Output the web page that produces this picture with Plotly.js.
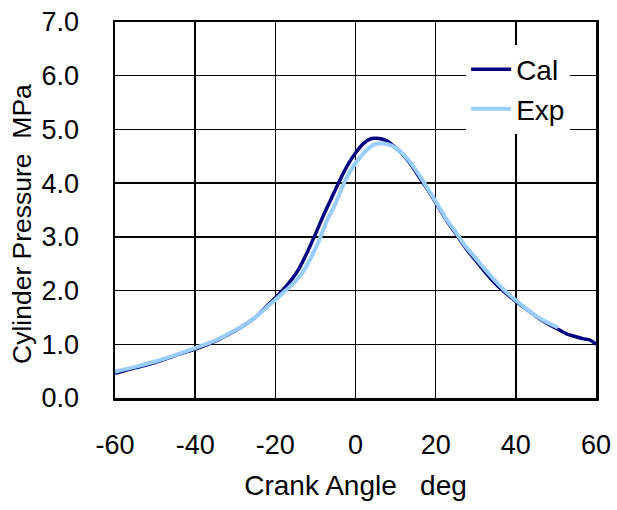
<!DOCTYPE html>
<html>
<head>
<meta charset="utf-8">
<script src="https://cdn.plot.ly/plotly-3.0.1.min.js"></script>
<style>html,body{margin:0;padding:0;background:#fff;}#chart{width:617px;height:510px;}</style>
</head>
<body>
<div id="chart"></div>
<script>
// Crank angle (deg) and cylinder pressure (MPa)
const calAngle = [-60,-55,-50,-45,-40,-35,-30,-25,-22,-20,-18,-16,-14,-12,-10,-8,-6,-4,-2,0,2,4,6,8,10,12,14,16,18,20,22.5,25,27.5,30,32.5,35,37.5,40,42.5,45,47.5,50,52.5,55,57,58.5,60];
const calPressure = [0.46,0.56,0.66,0.79,0.91,1.06,1.25,1.5,1.72,1.86,2.02,2.2,2.42,2.72,3.05,3.4,3.72,4.04,4.33,4.56,4.74,4.83,4.83,4.78,4.66,4.52,4.33,4.1,3.88,3.64,3.33,3.06,2.79,2.56,2.33,2.12,1.95,1.8,1.66,1.52,1.4,1.3,1.2,1.14,1.1,1.08,1.0];
const expAngle = [-60,-55,-50,-45,-40,-35,-30,-25,-22,-20,-17,-15,-13,-11,-9,-7,-5,-2.5,0,3,5,7,9,11,13,16,20,22.5,25,27.5,30,32.5,35,37.5,40,42.5,45,47.5,50.5];
const expPressure = [0.49,0.58,0.68,0.8,0.93,1.07,1.26,1.5,1.7,1.83,2.03,2.17,2.36,2.63,2.95,3.32,3.62,4.06,4.37,4.63,4.73,4.74,4.7,4.6,4.45,4.14,3.66,3.35,3.09,2.82,2.6,2.38,2.17,1.98,1.82,1.67,1.53,1.42,1.31];
const xTickVals = [-60,-40,-20,0,20,40,60];
const xTickText = ["-60","-40","-20","0","20","40","60"];
const yTickVals = [0,1,2,3,4,5,6,7];
const yTickText = ["0.0","1.0","2.0","3.0","4.0","5.0","6.0","7.0"];
const xTitle = "Crank Angle   deg";
const yTitle = "Cylinder Pressure  MPa";

const FONT = "Liberation Sans, Arial, sans-serif";
const traces = [
  {x: calAngle, y: calPressure, name: "Cal", mode: "lines", legendgroup: "a",
   line: {color: "#000080", width: 3.5, shape: "spline", smoothing: 0.6}},
  {x: expAngle, y: expPressure, name: "Exp", mode: "lines", legendgroup: "b",
   line: {color: "#99CCFF", width: 4, shape: "spline", smoothing: 0.6}}
];
const layout = {
  width: 617, height: 510,
  margin: {l: 115, r: 21, t: 22, b: 112},
  paper_bgcolor: "#fff", plot_bgcolor: "#fff",
  font: {family: FONT, size: 27, color: "#000"},
  showlegend: true,
  legend: {x: 0.73, y: 0.94, xanchor: "left", yanchor: "top",
    bgcolor: "#fff", borderwidth: 0, font: {family: FONT, size: 28, color: "#000"},
    itemwidth: 40, traceorder: "grouped", tracegroupgap: 0},
  xaxis: {range: [-60, 60], tickvals: xTickVals, ticktext: xTickText,
    showgrid: true, gridcolor: "#000", gridwidth: 1.5,
    showline: true, linecolor: "#000", linewidth: 2.5, mirror: true,
    ticks: "", zeroline: false, ticklabelstandoff: 21,
    tickfont: {family: FONT, size: 27, color: "#000"},
    title: {text: xTitle, font: {family: FONT, size: 28, color: "#000"}, standoff: 17}},
  yaxis: {range: [0, 7], tickvals: yTickVals, ticktext: yTickText,
    showgrid: true, gridcolor: "#000", gridwidth: 1.5,
    showline: true, linecolor: "#000", linewidth: 2.5, mirror: true,
    ticks: "", zeroline: false, ticklabelstandoff: 28,
    tickfont: {family: FONT, size: 27, color: "#000"}},
  annotations: [
    {text: yTitle, xref: "paper", yref: "paper", x: 0, y: 0.5,
     xanchor: "center", yanchor: "middle", xshift: -93, yshift: -14,
     textangle: -90, showarrow: false,
     font: {family: FONT, size: 26.5, color: "#000"}}
  ]
};
Plotly.newPlot("chart", traces, layout, {displayModeBar: false, staticPlot: true});
</script>
</body>
</html>
